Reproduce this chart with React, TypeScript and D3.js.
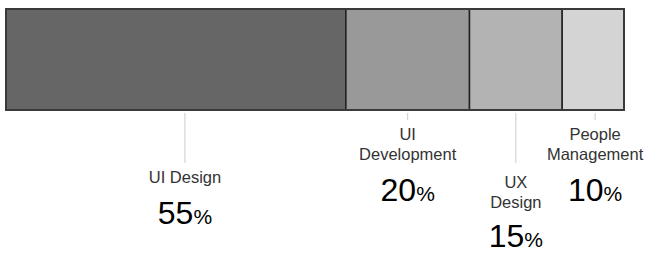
import React from 'react';
import * as d3 from 'd3';

// Skill split shown as one stacked bar
const categories = ['UI Design', 'UI Development', 'UX Design', 'People Management'];
const labelLines = [['UI Design'], ['UI', 'Development'], ['UX', 'Design'], ['People', 'Management']];
const values = [55, 20, 15, 10];
const colors = ['#666666', '#999999', '#b3b3b3', '#d4d4d4'];

const width = 648;
const height = 255;
const bar = { left: 6, right: 624, top: 9, bottom: 110 };
const labelNudge = [9, 0, 0, 2];

const App = () => {
  const x = d3.scaleLinear().domain([0, d3.sum(values)]).range([bar.left, bar.right]);
  const ends = Array.from(d3.cumsum(values));
  const starts = ends.map((e, i) => e - values[i]);

  return (
    <svg
      width={width}
      height={height}
      style={{ position: 'absolute', left: 0, top: 0, background: '#fff' }}
      fontFamily="'Liberation Sans', Arial, sans-serif"
    >
      {/* segments */}
      {categories.map((c, i) => (
        <rect
          key={c}
          x={x(starts[i])}
          y={bar.top}
          width={x(ends[i]) - x(starts[i])}
          height={bar.bottom - bar.top}
          fill={colors[i]}
          stroke="#222"
          strokeWidth={1.5}
        />
      ))}
      <rect
        x={bar.left}
        y={bar.top}
        width={bar.right - bar.left}
        height={bar.bottom - bar.top}
        fill="none"
        stroke="#3a3a3a"
        strokeWidth={2}
      />

      {/* leader lines and labels */}
      {categories.map((c, i) => {
        const cx = (x(starts[i]) + x(ends[i])) / 2;
        const lx = cx + labelNudge[i];
        const lineEnd = i % 2 === 0 ? 163 : 120;
        const first = lineEnd + (i === 2 ? 25 : 20);
        const lines = labelLines[i];
        const numY = first + (lines.length - 1) * 20 + (i === 2 ? 39 : 41);
        return (
          <g key={c}>
            <line x1={lx} x2={lx} y1={bar.bottom + 3} y2={lineEnd} stroke="#cccccc" strokeWidth={1} />
            <text textAnchor="middle" fill="#333" fontSize={16.5}>
              {lines.map((l, j) => (
                <tspan key={j} x={lx} y={first + j * 20}>
                  {l}
                </tspan>
              ))}
            </text>
            <text x={lx} y={numY} textAnchor="middle" fill="#000">
              <tspan fontSize={32}>{values[i]}</tspan>
              <tspan fontSize={21}>%</tspan>
            </text>
          </g>
        );
      })}
    </svg>
  );
};

export default App;
